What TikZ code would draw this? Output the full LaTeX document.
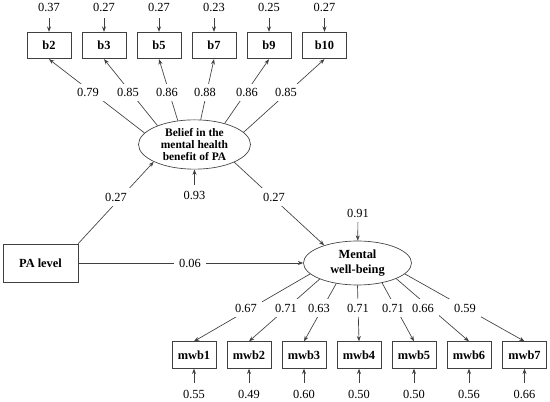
\documentclass[tikz,border=0pt]{standalone}
\usepackage{fontspec}
\setmainfont{Liberation Serif}
\usetikzlibrary{arrows.meta,shapes.geometric}
\begin{document}
\begin{tikzpicture}[x=0.75pt,y=-0.75pt,
  ln/.style={draw=black!75, line width=0.5pt},
  arr/.style={ln, -{Stealth[length=4pt,width=3pt]}},
  obs/.style={draw=black!75, line width=0.5pt, rectangle, minimum width=33pt, minimum height=20pt, inner sep=0pt, font=\fontsize{9.3}{10}\selectfont\bfseries},
  lat/.style={draw=black!75, line width=0.5pt, ellipse, inner sep=0pt, align=center},
  lbl/.style={fill=white, inner xsep=4pt, inner ysep=3.5pt, font=\fontsize{9.3}{10}\selectfont},
  err/.style={inner sep=1pt, font=\fontsize{9.3}{10}\selectfont}]
\useasboundingbox (0,0) rectangle (550,402);

% latent variables
\node[lat, minimum width=84pt, minimum height=37pt, font=\fontsize{8.6}{8.8}\selectfont\bfseries] (bel) at (194.5,144.5) {Belief in the\\mental health\\benefit of PA};
\node[lat, minimum width=81pt, minimum height=33pt, font=\fontsize{9.3}{11.2}\selectfont\bfseries] (mw) at (357.5,263) {Mental\\well-being};

% PA level
\node[obs, minimum width=56pt, minimum height=28.5pt] (pa) at (40.5,263) {PA level};

% belief indicators
\node[obs] (b2) at (49,45.5) {b2};
\node[obs] (b3) at (104,45.5) {b3};
\node[obs] (b5) at (159,45.5) {b5};
\node[obs] (b7) at (214,45.5) {b7};
\node[obs] (b9) at (269,45.5) {b9};
\node[obs] (b10) at (324.5,45.5) {b10};

% mwb indicators
\node[obs] (m1) at (194,355) {mwb1};
\node[obs] (m2) at (249,355) {mwb2};
\node[obs] (m3) at (304,355) {mwb3};
\node[obs] (m4) at (359,355) {mwb4};
\node[obs] (m5) at (414,355) {mwb5};
\node[obs] (m6) at (469,355) {mwb6};
\node[obs] (m7) at (524.5,355) {mwb7};

% residuals top
\node[err] (e2) at (49,7.8) {0.37};
\node[err] (e3) at (104,7.8) {0.27};
\node[err] (e5) at (159,7.8) {0.27};
\node[err] (e7) at (214,7.8) {0.23};
\node[err] (e9) at (269,7.8) {0.25};
\node[err] (e10) at (324.5,7.8) {0.27};
\foreach \e/\b in {e2/b2,e3/b3,e5/b5,e7/b7,e9/b9,e10/b10}
  \draw[arr, shorten <=3.5pt] (\e) -- (\b);

% residuals bottom
\node[err] (r1) at (194,394.5) {0.55};
\node[err] (r2) at (249,394.5) {0.49};
\node[err] (r3) at (304,394.5) {0.60};
\node[err] (r4) at (359,394.5) {0.50};
\node[err] (r5) at (414,394.5) {0.50};
\node[err] (r6) at (469,394.5) {0.56};
\node[err] (r7) at (524.5,394.5) {0.66};
\foreach \r/\m in {r1/m1,r2/m2,r3/m3,r4/m4,r5/m5,r6/m6,r7/m7}
  \draw[arr, shorten <=4.5pt] (\r) -- (\m);

% latent residuals
\node[err] (ebel) at (194.5,195.5) {0.93};
\draw[arr, shorten <=3.5pt] (ebel) -- (bel);
\node[err] (emw) at (358,213.7) {0.91};
\draw[arr, shorten <=2pt] (emw) -- (mw);

% loadings belief
\draw[arr] (bel.167) -- (b2.south);
\draw[arr] (bel.153) -- (b3.south);
\draw[arr] (bel.125) -- (b5.south);
\draw[arr] (bel.76) -- (b7.south);
\draw[arr] (bel.35) -- (b9.south);
\draw[arr] (bel.14) -- (b10.south);
\node[lbl] (l2) at (88,92.5) {0.79};
\node[lbl] (l3) at (128,92.5) {0.85};
\node[lbl] (l5) at (167,92.5) {0.86};
\node[lbl] (l7) at (205,92.5) {0.88};
\node[lbl] (l9) at (247,92.5) {0.86};
\node[lbl] (l10) at (286,92.5) {0.85};

% loadings mental well-being
\draw[arr] (mw.-167) -- (m1.north);
\draw[arr] (mw.-157) -- (m2.north);
\draw[arr] (mw.-136) -- (m3.north);
\draw[arr] (mw.-90) -- (m4.north);
\draw[arr] (mw.-39) -- (m5.north);
\draw[arr] (mw.-22) -- (m6.north);
\draw[arr] (mw.-13) -- (m7.north);
\node[lbl] (k1) at (246,308) {0.67};
\node[lbl] (k2) at (286,308) {0.71};
\node[lbl] (k3) at (319,308) {0.63};
\node[lbl] (k4) at (358,308) {0.71};
\node[lbl] (k5) at (393,308) {0.71};
\node[lbl] (k6) at (423,308) {0.66};
\node[lbl] (k7) at (465,308) {0.59};

% structural paths
\draw[arr] (pa.north east) -- (bel.-157);
\draw[arr] (bel.-24) -- (mw.152);
\draw[arr] (pa.east) -- (mw.west);
\node[lbl] (s1) at (116,197) {0.27};
\node[lbl] (s2) at (274,197) {0.27};
\node[lbl] (s3) at (190,263) {0.06};
\end{tikzpicture}
\end{document}
